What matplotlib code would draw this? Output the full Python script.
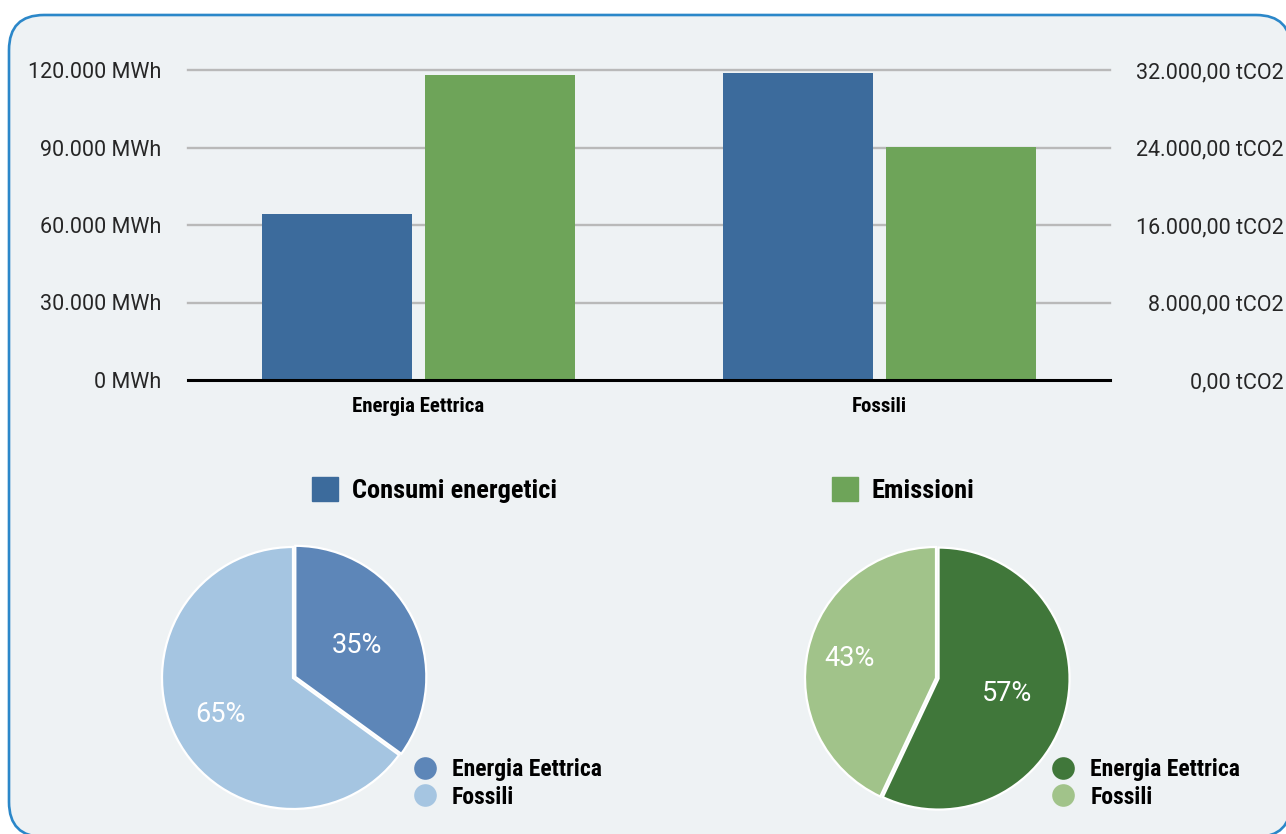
import matplotlib
matplotlib.use('Agg')
import matplotlib.pyplot as plt
from matplotlib.patches import FancyBboxPatch, Patch
from matplotlib.lines import Line2D
import numpy as np

# dati
categorie = ['Energia Eettrica', 'Fossili']
consumi_mwh = [64300, 118800]
emissioni_tco2 = [31450, 24050]

mwh_ticks = [0, 30000, 60000, 90000, 120000]
mwh_labels = ['0 MWh', '30.000 MWh', '60.000 MWh', '90.000 MWh', '120.000 MWh']
co2_ticks = [0, 8000, 16000, 24000, 32000]
co2_labels = ['0,00 tCO2', '8.000,00 tCO2', '16.000,00 tCO2', '24.000,00 tCO2', '32.000,00 tCO2']

serie = ['Consumi energetici', 'Emissioni']
quote_consumi = [35, 65]
quote_emissioni = [57, 43]

W, H = 1286, 834
blu = '#3c6b9c'
verde = '#6ea459'
sfondo = '#eef2f4'
narrow = ['Roboto Condensed', 'DejaVu Sans']
testo = ['Roboto', 'Liberation Sans', 'DejaVu Sans']

fig = plt.figure(figsize=(W / 100, H / 100), dpi=100)
fig.patch.set_facecolor('white')

# riquadro di sfondo arrotondato (in pixel)
bg = fig.add_axes([0, 0, 1, 1], zorder=-10)
bg.set_xlim(0, W)
bg.set_ylim(H, 0)
bg.axis('off')
bg.add_patch(FancyBboxPatch((9, 15), 1282, 822, boxstyle='round,pad=0,rounding_size=35',
                            facecolor=sfondo, edgecolor='#2b87c9', linewidth=1.9))

# --- grafico a barre ---
ax = fig.add_axes([188 / W, 1 - 380 / H, 922 / W, 310 / H])
ax2 = ax.twinx()
x = np.arange(len(categorie))
ax.bar(x - 0.177, consumi_mwh, width=0.325, color=blu, zorder=2)
ax2.bar(x + 0.177, emissioni_tco2, width=0.325, color=verde, zorder=2)
ax.set_xlim(-0.5, 1.5)
ax.set_ylim(0, 120000)
ax2.set_ylim(0, 32000)

for t in mwh_ticks[1:]:
    ax.axhline(t, color='#b9b9b9', lw=1.7, zorder=0.5, clip_on=False)
ax2.axhline(0, color='black', lw=2.2, zorder=5, clip_on=False)

tick_font = dict(family=testo, size=15.5, color='#262626')
ax.set_yticks(mwh_ticks, mwh_labels, **tick_font)
ax2.set_yticks(co2_ticks, co2_labels, ha='right', **tick_font)
ax.set_xticks(x, categorie, family=narrow, stretch='condensed', weight='bold', size=15, color='black')
ax.tick_params(axis='y', length=0, pad=19.5)
ax2.tick_params(axis='y', length=0, pad=125)
ax.tick_params(axis='x', length=0, pad=12)
for a in (ax, ax2):
    a.patch.set_visible(False)
    for s in a.spines.values():
        s.set_visible(False)

# legende delle barre
leg_kw = dict(loc='center left', frameon=False, borderpad=0, borderaxespad=0,
              handlelength=0.985, handleheight=1.0, handletextpad=0.53,
              prop=dict(family=narrow, stretch='condensed', weight='bold', size=19))
fig.legend([Patch(color=blu)], [serie[0]], bbox_to_anchor=(312 / W, 1 - 490 / H), **leg_kw)
fig.legend([Patch(color=verde)], [serie[1]], bbox_to_anchor=(832 / W, 1 - 490 / H), **leg_kw)


# --- torte ---
def torta(cx, quote, colori, dist, leg_x):
    r = 131
    half = 1.1 * r
    axp = fig.add_axes([(cx - half) / W, 1 - (678 + half) / H, 2 * half / W, 2 * half / H])
    wedges, texts, autotexts = axp.pie(
        quote, colors=colori, startangle=90, counterclock=False, explode=[0.02, 0],
        autopct='%.0f%%', wedgeprops=dict(edgecolor='white', linewidth=1.6),
        textprops=dict(color='white', size=19.5, family=testo))
    axp.set_xlim(-1.1, 1.1)
    axp.set_ylim(-1.1, 1.1)
    for w, t, d in zip(wedges, autotexts, dist):
        ang = np.deg2rad((w.theta1 + w.theta2) / 2)
        t.set_position((d * np.cos(ang), d * np.sin(ang)))
    handles = [Line2D([], [], ls='none', marker='o', markersize=16.3,
                      markerfacecolor=c, markeredgecolor='none') for c in colori]
    fig.legend(handles, categorie, loc='center left', bbox_to_anchor=(leg_x / W, 1 - 783.5 / H),
               frameon=False, borderpad=0, borderaxespad=0, handlelength=1.0,
               handletextpad=0.64, labelspacing=0.18,
               prop=dict(family=narrow, stretch='condensed', weight='bold', size=17))


torta(293, quote_consumi, ['#5d86b8', '#a5c5e1'], [0.55, 0.62], 413)
torta(936, quote_emissioni, ['#40773a', '#a1c38a'], [0.555, 0.675], 1051.5)

fig.savefig('out.png', dpi=100, facecolor='white')
